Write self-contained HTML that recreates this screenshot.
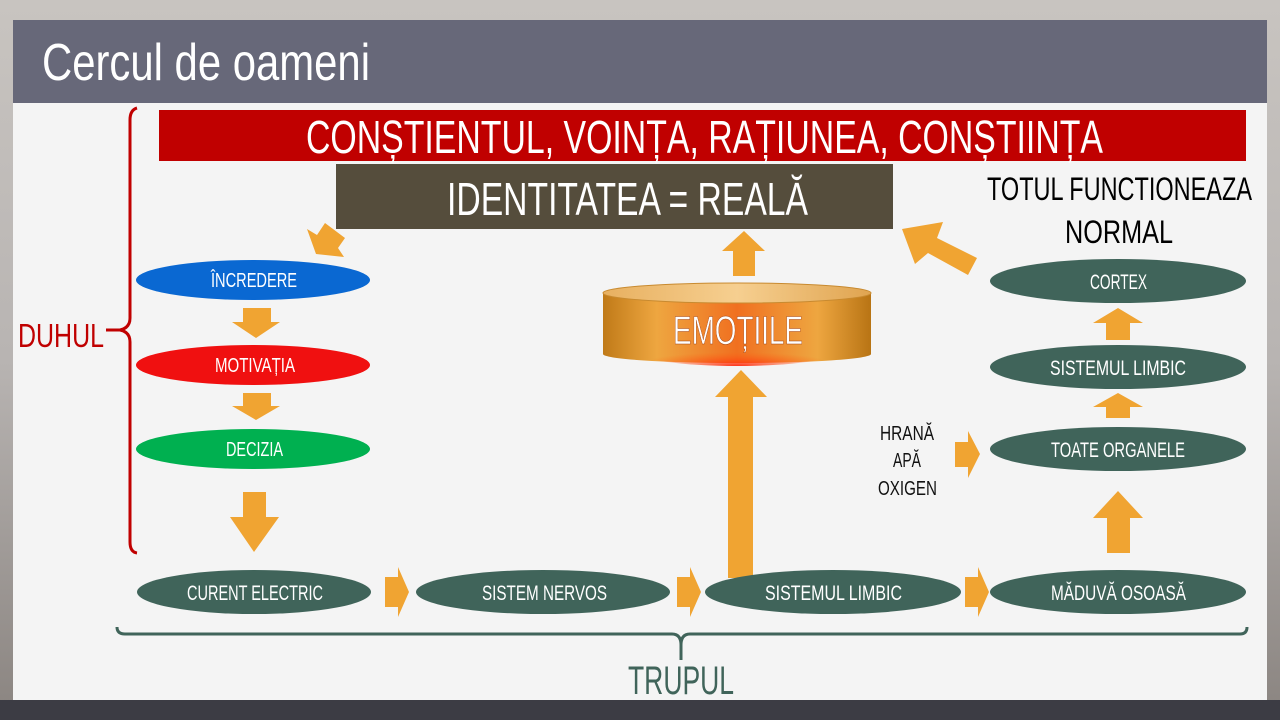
<!DOCTYPE html>
<html><head><meta charset="utf-8"><style>
html,body{margin:0;padding:0;width:1280px;height:720px;overflow:hidden;background:#aaa}
svg{display:block}
text{font-family:"Liberation Sans Narrow","Liberation Sans",sans-serif}
</style></head><body>
<svg width="1280" height="720" viewBox="0 0 1280 720" xmlns="http://www.w3.org/2000/svg">
<defs>
<linearGradient id="bg" x1="0" y1="0" x2="0" y2="1">
<stop offset="0" stop-color="#c8c4c0"/><stop offset="0.5" stop-color="#b8b4b2"/><stop offset="1" stop-color="#8a8480"/></linearGradient>
<linearGradient id="cyl" x1="0" y1="0" x2="1" y2="0">
<stop offset="0" stop-color="#c07a18"/><stop offset="0.2" stop-color="#eea640"/><stop offset="0.5" stop-color="#f07020"/><stop offset="0.8" stop-color="#eea640"/><stop offset="1" stop-color="#b87414"/></linearGradient>
<radialGradient id="hot" cx="0.5" cy="1" r="0.5"><stop offset="0" stop-color="#ff2a10" stop-opacity="0.95"/><stop offset="1" stop-color="#ff6010" stop-opacity="0"/></radialGradient>
<linearGradient id="top" x1="0" y1="0" x2="1" y2="0"><stop offset="0" stop-color="#e8b060"/><stop offset="0.5" stop-color="#f6cf90"/><stop offset="1" stop-color="#e0a450"/></linearGradient>
</defs>
<rect width="1280" height="720" fill="url(#bg)"/>
<rect x="0" y="700" width="1280" height="20" fill="#3c3c44"/>
<rect x="13" y="20" width="1254" height="680" fill="#f4f4f4"/>
<rect x="13" y="20" width="1254" height="83" fill="#676879"/>
<text x="42" y="80" font-size="52" fill="#fff" textLength="328" lengthAdjust="spacingAndGlyphs">Cercul de oameni</text>

<rect x="159" y="110" width="1087" height="51" fill="#c00000"/>
<text x="306" y="153" font-size="46" fill="#fff" textLength="797" lengthAdjust="spacingAndGlyphs">CONȘTIENTUL, VOINȚA, RAȚIUNEA, CONȘTIINȚA</text>
<rect x="336" y="164" width="557" height="65" fill="#554d3c"/>
<text x="447" y="215" font-size="46" fill="#fff" textLength="361" lengthAdjust="spacingAndGlyphs">IDENTITATEA = REALĂ</text>
<text x="987" y="200" font-size="32" fill="#000" textLength="265" lengthAdjust="spacingAndGlyphs">TOTUL FUNCTIONEAZA</text>
<text x="1065" y="243" font-size="32" fill="#000" textLength="108" lengthAdjust="spacingAndGlyphs">NORMAL</text>

<path d="M137,108 Q130,110 130,120 L130,318 Q130,328 120,330 Q130,332 130,342 L130,542 Q130,552 137,553" fill="none" stroke="#c00000" stroke-width="3"/>
<line x1="106" y1="330" x2="121" y2="330" stroke="#c00000" stroke-width="3"/>
<text x="18" y="347" font-size="33" fill="#c00000" textLength="86" lengthAdjust="spacingAndGlyphs">DUHUL</text>

<g fill="#f0a432">
<polygon points="307,229 317,235 325,223 345,238 338,248 344,257 316,254"/>
<polygon points="243,308 271,308 271,322 280,322 256,338 232,322 243,322"/>
<polygon points="243,393 271,393 271,406 280,406 256,420 232,406 243,406"/>
<polygon points="243,492 266,492 266,517 279,517 254,552 230,517 243,517"/>
<polygon points="385,577 398,577 398,567 409,592 398,617 398,607 385,607"/>
<polygon points="677,577 690,577 690,567 701,592 690,617 690,607 677,607"/>
<polygon points="965,577 978,577 978,567 989,592 978,617 978,607 965,607"/>
<polygon points="728,578 753,578 753,397 767,397 741,370 715,397 728,397"/>
<polygon points="733,276 755,276 755,251 765,251 744,231 722,251 733,251"/>
<polygon points="968,275 977,258 937,238 943,222 902,229 915,264 928,253"/>
<polygon points="1107,553 1130,553 1130,518 1143,518 1118,491 1093,518 1107,518"/>
<polygon points="1106,418 1130,418 1130,407 1143,407 1118,393 1093,407 1106,407"/>
<polygon points="1106,340 1130,340 1130,323 1143,323 1118,308 1093,323 1106,323"/>
<polygon points="955,442 968,442 968,431 980,454 968,478 968,467 955,467"/>
</g>

<ellipse cx="253" cy="280" rx="117" ry="20" fill="#0a68d2"/>
<text x="211" y="287" font-size="20" fill="#fff" textLength="86" lengthAdjust="spacingAndGlyphs">ÎNCREDERE</text>
<ellipse cx="253" cy="365" rx="117" ry="20" fill="#f01010"/>
<text x="215" y="372" font-size="20" fill="#fff" textLength="80" lengthAdjust="spacingAndGlyphs">MOTIVAȚIA</text>
<ellipse cx="253" cy="449" rx="117" ry="20" fill="#00b050"/>
<text x="226" y="456" font-size="20" fill="#fff" textLength="57" lengthAdjust="spacingAndGlyphs">DECIZIA</text>

<g fill="#40645a">
<ellipse cx="254" cy="592" rx="117" ry="22"/>
<ellipse cx="543" cy="592" rx="127" ry="22"/>
<ellipse cx="833" cy="592" rx="128" ry="22"/>
<ellipse cx="1118" cy="592" rx="128" ry="22"/>
<ellipse cx="1118" cy="281" rx="128" ry="22"/>
<ellipse cx="1118" cy="367" rx="128" ry="22"/>
<ellipse cx="1118" cy="449" rx="128" ry="22"/>
</g>
<g fill="#fff" font-size="21">
<text x="187" y="600" textLength="136" lengthAdjust="spacingAndGlyphs">CURENT ELECTRIC</text>
<text x="482" y="600" textLength="125" lengthAdjust="spacingAndGlyphs">SISTEM NERVOS</text>
<text x="765" y="600" textLength="137" lengthAdjust="spacingAndGlyphs">SISTEMUL LIMBIC</text>
<text x="1051" y="600" textLength="135" lengthAdjust="spacingAndGlyphs">MĂDUVĂ OSOASĂ</text>
<text x="1090" y="289" textLength="57" lengthAdjust="spacingAndGlyphs">CORTEX</text>
<text x="1050" y="375" textLength="136" lengthAdjust="spacingAndGlyphs">SISTEMUL LIMBIC</text>
<text x="1051" y="457" textLength="134" lengthAdjust="spacingAndGlyphs">TOATE ORGANELE</text>
</g>
<g fill="#111" font-size="20">
<text x="880" y="440" textLength="54" lengthAdjust="spacingAndGlyphs">HRANĂ</text>
<text x="893" y="467" textLength="28" lengthAdjust="spacingAndGlyphs">APĂ</text>
<text x="878" y="495" textLength="59" lengthAdjust="spacingAndGlyphs">OXIGEN</text>
</g>

<path d="M603,293 L603,354 A134,9 0 0 0 871,354 L871,293 Z" fill="url(#cyl)"/>
<ellipse cx="737" cy="352" rx="100" ry="14" fill="url(#hot)"/>
<ellipse cx="737" cy="293" rx="134" ry="10" fill="url(#top)" stroke="#c88a30" stroke-width="1"/>
<text x="673" y="344" font-size="40" fill="#fff" stroke="#a04010" stroke-width="0.5" textLength="130" lengthAdjust="spacingAndGlyphs">EMOȚIILE</text>

<path d="M117,627 Q117,634 125,634 L672,634 Q681,634 681,645 L681,660 M681,645 Q681,634 690,634 L1240,634 Q1247,634 1247,627" fill="none" stroke="#40645a" stroke-width="3"/>
<text x="681" y="694" font-size="40" fill="#40645a" text-anchor="middle" textLength="106" lengthAdjust="spacingAndGlyphs">TRUPUL</text>
</svg>
</body></html>
